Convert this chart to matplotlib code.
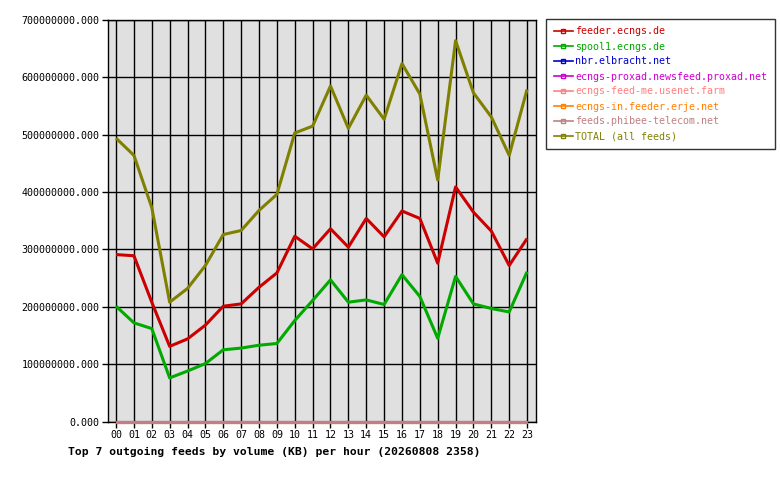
import matplotlib
matplotlib.use("Agg")
import matplotlib.pyplot as plt

hours = ["00","01","02","03","04","05","06","07","08","09","10","11",
         "12","13","14","15","16","17","18","19","20","21","22","23"]

feeder = [291, 289, 208, 131, 144, 168, 201, 205, 234, 259, 323, 301,
          336, 304, 354, 322, 367, 354, 276, 409, 365, 332, 272, 319]
spool1 = [201, 172, 162, 76, 88, 101, 125, 128, 133, 136, 176, 211,
          247, 208, 212, 204, 256, 218, 145, 253, 205, 197, 191, 261]
nbr = [0] * 24
proxad = [0] * 24
feedme = [0] * 24
erje = [0] * 24
phibee = [0] * 24
total = [494, 464, 373, 208, 232, 272, 326, 333, 368, 396, 503, 515,
         585, 511, 569, 527, 624, 571, 421, 664, 573, 531, 464, 579]

series_names = ["feeder.ecngs.de", "spool1.ecngs.de", "nbr.elbracht.net",
                "ecngs-proxad.newsfeed.proxad.net", "ecngs-feed-me.usenet.farm",
                "ecngs-in.feeder.erje.net", "feeds.phibee-telecom.net",
                "TOTAL (all feeds)"]
series_vals = [feeder, spool1, nbr, proxad, feedme, erje, phibee, total]
colors = ["#CC0000", "#00AA00", "#0000CC", "#CC00CC", "#FF8080",
          "#FF8000", "#C08080", "#808000"]

yticks = [0, 100, 200, 300, 400, 500, 600, 700]
scale = 1e6

plt.rcParams['font.family'] = ['DejaVu Sans Mono']
fig = plt.figure(figsize=(7.8, 4.8), dpi=100)
W, H = 780, 480
left, right, top, bottom = 108, 536, 20, 421.5
ax = fig.add_axes([left / W, 1 - bottom / H, (right - left) / W, (bottom - top) / H])
ax.set_facecolor("#E0E0E0")

x = list(range(len(hours)))
for name, vals, c in zip(series_names, series_vals, colors):
    ax.plot(x, [v * scale for v in vals], color=c, lw=2.2, label=name,
            clip_on=False, solid_capstyle='butt', zorder=3)

ax.set_xlim(-0.45, 23.5)
ax.set_ylim(0, 700 * scale)
ax.set_xticks(x)
ax.set_xticklabels(hours, fontsize=7.2)
ax.set_yticks([v * scale for v in yticks])
ax.set_yticklabels(["%d.000" % (v * 1000000) for v in yticks], fontsize=7.2)
ax.grid(True, color="black", lw=1.0, zorder=1)
ax.set_axisbelow(True)
for s in ax.spines.values():
    s.set_color("black")
    s.set_linewidth(1.0)
ax.tick_params(axis='both', length=4, width=1, color='black', pad=2)

# legend
from matplotlib.lines import Line2D
handles = [Line2D([0], [0], color=c, lw=1.2, marker='s', markersize=3,
                  markerfacecolor='none', markeredgecolor=c, markeredgewidth=1)
           for c in colors]
leg = fig.legend(handles, series_names, loc='upper left',
                 bbox_to_anchor=(546 / W, 1 - 19 / H),
                 fontsize=7.2, frameon=True, fancybox=False, edgecolor='black',
                 handlelength=1.9, handletextpad=0.25, labelspacing=0.5,
                 borderpad=0.75, borderaxespad=0, markerscale=1)
leg.get_frame().set_linewidth(1.0)
for t, c in zip(leg.get_texts(), colors):
    t.set_color(c)

fig.text(68 / W, 1 - 452 / H,
         "Top 7 outgoing feeds by volume (KB) per hour (20260808 2358)",
         fontsize=8.2, fontweight='bold', ha='left', va='center')

fig.savefig("out.png", dpi=100, facecolor="white")
